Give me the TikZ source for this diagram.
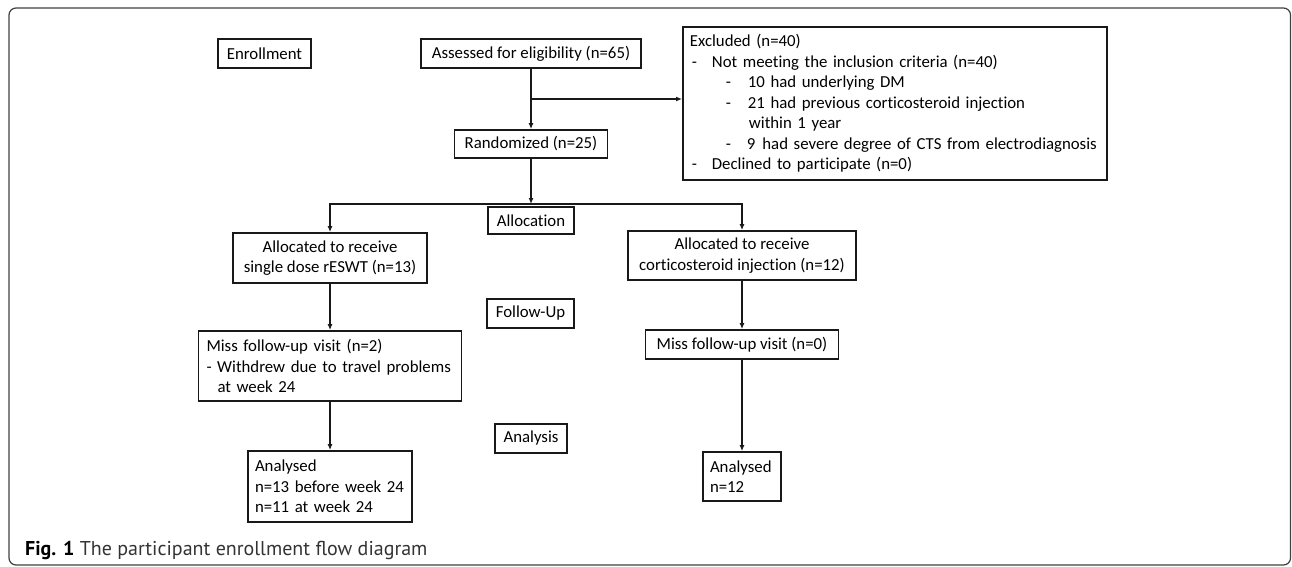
\documentclass[tikz,border=0pt]{standalone}
\usepackage{fontspec}
\setmainfont{Carlito}[Ligatures=NoCommon]
\newfontfamily\capfont{PT Sans}
\usetikzlibrary{arrows.meta}
\begin{document}
\begin{tikzpicture}[x=1pt,y=-1pt,
  box/.style={draw=black!90, line width=1.8pt, inner sep=0pt, text=black,
              font=\fontsize{16.8}{20.5}\selectfont},
  cbox/.style={box, align=center},
  lbox/.style={box, align=left, inner xsep=7pt},
  ln/.style={line width=1.6pt, draw=black!90},
  arr/.style={ln, -{Latex[length=6pt,width=5pt]}}]
\useasboundingbox (0,0) rectangle (1292,567);
\draw[rounded corners=7pt, line width=1.2pt, draw=black!75] (9,8) rectangle (1290.5,565);

% stage labels
\node[cbox, minimum width=93pt, minimum height=29pt] (enr) at (264.5,53.5) {Enrollment};
\node[cbox, minimum width=86pt, minimum height=27pt] (alc) at (531,220.5) {Allocation};
\node[cbox, minimum width=87pt, minimum height=29pt] (fol) at (530.5,313.5) {Follow-Up};
\node[cbox, minimum width=72pt, minimum height=29pt] (ana) at (531,438.5) {Analysis};

% main flow
\node[cbox, minimum width=220pt, minimum height=29pt] (ass) at (531,53.5) {Assessed for eligibility (n=65)};
\node[cbox, minimum width=153pt, minimum height=28pt] (ran) at (531,144) {Randomized (n=25)};
\node[lbox, text width=410pt, minimum height=153pt, anchor=north west] (exc) at (682,26) {%
\mbox{Excluded (n=40)}\\
\mbox{\hspace*{2pt}\makebox[20pt][l]{-}Not meeting the inclusion criteria (n=40)}\\
\mbox{\hspace*{36pt}\makebox[22pt][l]{-}10 had underlying DM}\\
\mbox{\hspace*{36pt}\makebox[22pt][l]{-}21 had previous corticosteroid injection}\\
\mbox{\hspace*{59pt}within 1 year}\\
\mbox{\hspace*{36pt}\makebox[21pt][l]{-}9\hspace{7pt}had severe degree of CTS from electrodiagnosis}\\
\mbox{\hspace*{2pt}\makebox[20pt][l]{-}Declined to participate (n=0)}};

\node[cbox, minimum width=194pt, minimum height=50pt] (la) at (330,258) {Allocated to receive\\single dose rESWT (n=13)};
\node[cbox, minimum width=228pt, minimum height=49pt] (ra) at (742,255.5) {Allocated to receive\\corticosteroid injection (n=12)};

\node[lbox, inner xsep=8pt, text width=247pt, minimum height=70pt] (ml) at (330,366) {\mbox{Miss follow-up visit (n=2)}\\\mbox{- Withdrew due to travel problems}\\\mbox{\hspace*{11pt}at week 24}};
\node[cbox, minimum width=193pt, minimum height=29pt] (mr) at (742,344.5) {Miss follow-up visit (n=0)};

\node[lbox, text width=150pt, minimum height=71pt] (al) at (330,486.5) {\mbox{Analysed}\\\mbox{n=13 before week 24}\\\mbox{n=11 at week 24}};
\node[lbox, text width=64pt, minimum height=49pt] (ar) at (742,476.5) {\mbox{Analysed}\\\mbox{n=12}};

% connectors
\draw[arr] (ass.south) -- (ran.north);
\coordinate (br) at (531,99);
\draw[arr] (br) -- (br -| exc.west);
\coordinate (sp) at (531,204);
\draw[arr] (ran.south) -- (sp);
\draw[arr] (sp) -| (la.north);
\draw[arr] (sp) -| (ra.north);
\draw[arr] (la.south) -- (ml.north);
\draw[arr] (ml.south) -- (al.north);
\draw[arr] (ra.south) -- (mr.north);
\draw[arr] (mr.south) -- (ar.north);

% caption
\node[anchor=base west, inner sep=0pt, text=black!80, font=\capfont\fontsize{20}{23}\selectfont] (cap) at (25,555) {\textbf{\color{black}Fig. 1} The participant enrollment flow diagram};
\end{tikzpicture}
\end{document}
